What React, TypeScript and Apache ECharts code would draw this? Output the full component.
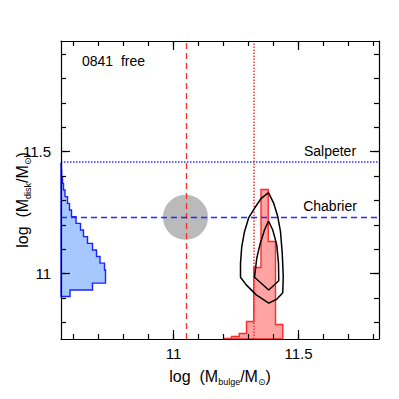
import React, { useEffect, useRef } from "react";
import * as echarts from "echarts";

// axis ranges and ticks
const xRange = [10.55, 11.822];
const yRange = [10.732, 11.954];
const xMajorTicks = [11, 11.5];
const xTickLabels = ["11", "11.5"];
const xMinorTicks = [10.6, 10.7, 10.8, 10.9, 11.0, 11.1, 11.2, 11.3, 11.4, 11.5, 11.6, 11.7, 11.8];
const yMajorTicks = [11, 11.5];
const yTickLabels = ["11", "11.5"];
const yMinorTicks = [10.8, 10.9, 11.0, 11.1, 11.2, 11.3, 11.4, 11.5, 11.6, 11.7, 11.8, 11.9];

// bulge-mass posterior histogram (red)
const bulgeBinEdges = [11.203, 11.232, 11.263, 11.292, 11.321, 11.35, 11.379, 11.408, 11.437];
const bulgeCounts = [1, 5, 11, 35, 143, 299, 195, 29];
const bulgeCountMax = 596;

// disk-mass posterior histogram (blue)
const diskBinEdges = [10.906, 10.933, 10.961, 10.988, 11.015, 11.043, 11.07, 11.097, 11.124, 11.152,
  11.179, 11.206, 11.234, 11.261, 11.288, 11.316, 11.343, 11.37, 11.397, 11.425, 11.452];
const diskCounts = [18, 63, 89, 89, 87, 78, 71, 63, 53, 45, 39, 30, 21, 17, 13, 8, 5, 3, 1.4, 0.8];
const diskCountMax = 636;

// confidence contours
const outerContour = [
  [11.38, 11.332], [11.351, 11.309], [11.324, 11.268], [11.301, 11.23], [11.284, 11.172],
  [11.273, 11.111], [11.268, 11.042], [11.268, 10.985], [11.291, 10.954], [11.331, 10.913],
  [11.381, 10.879], [11.413, 10.895], [11.437, 10.922], [11.439, 10.988], [11.435, 11.083],
  [11.428, 11.172], [11.417, 11.234], [11.401, 11.288], [11.38, 11.332],
];
const innerContour = [
  [11.38, 11.216], [11.364, 11.179], [11.347, 11.124], [11.333, 11.063], [11.324, 10.985],
  [11.381, 10.933], [11.421, 10.971], [11.42, 11.042], [11.413, 11.118], [11.397, 11.179],
  [11.38, 11.216],
];

// reference values
const chabrierPoint = [11.048, 11.231];
const salpeterBulge = 11.317;
const salpeterDisk = 11.457;

const FONT = "'Liberation Sans', Arial, Helvetica, sans-serif";

function labelFor(ticks: number[], labels: string[]) {
  return (v: number) => {
    const i = ticks.findIndex((t) => Math.abs(t - v) < 1e-9);
    return i >= 0 ? labels[i] : "";
  };
}

const axisLineStyle = { color: "#000", width: 1.2 };

function mainAxis(pos: string, range: number[], ticks: number[], labels: string[] | null, margin: number) {
  return {
    type: "value",
    position: pos,
    min: range[0],
    max: range[1],
    z: 10,
    axisLine: { show: true, onZero: false, lineStyle: axisLineStyle },
    axisTick: { show: true, inside: true, length: 9, customValues: ticks, lineStyle: axisLineStyle },
    axisLabel: labels
      ? { show: true, customValues: ticks, formatter: labelFor(ticks, labels), margin, fontSize: 15, color: "#000", fontFamily: FONT }
      : { show: false },
    splitLine: { show: false },
  };
}

function minorAxis(pos: string, range: number[], ticks: number[]) {
  return {
    type: "value",
    position: pos,
    min: range[0],
    max: range[1],
    z: 10,
    axisLine: { show: false, onZero: false },
    axisTick: { show: true, inside: true, length: 5, customValues: ticks, lineStyle: axisLineStyle },
    axisLabel: { show: false },
    splitLine: { show: false },
  };
}

function hiddenAxis(pos: string, max: number) {
  return {
    type: "value",
    position: pos,
    min: 0,
    max,
    show: false,
    axisLine: { show: false, onZero: false },
    splitLine: { show: false },
  };
}

export default function App() {
  const ref = useRef<HTMLDivElement>(null);
  useEffect(() => {
    if (!ref.current) return;
    const chart = echarts.init(ref.current, null, { renderer: "svg" });
    const option: any = {
      animation: false,
      backgroundColor: "#fff",
      grid: { left: 61, top: 41, width: 318, height: 298, containLabel: false },
      xAxis: [
        mainAxis("bottom", xRange, xMajorTicks, xTickLabels, 7),
        mainAxis("top", xRange, xMajorTicks, null, 0),
        minorAxis("bottom", xRange, xMinorTicks),
        minorAxis("top", xRange, xMinorTicks),
        hiddenAxis("bottom", diskCountMax),
      ],
      yAxis: [
        mainAxis("left", yRange, yMajorTicks, yTickLabels, 10),
        mainAxis("right", yRange, yMajorTicks, null, 0),
        minorAxis("left", yRange, yMinorTicks),
        minorAxis("right", yRange, yMinorTicks),
        hiddenAxis("left", bulgeCountMax),
      ],
      series: [
        {
          type: "custom",
          name: "bulge hist",
          xAxisIndex: 0,
          yAxisIndex: 4,
          z: 2,
          data: [[bulgeBinEdges[0], 0]],
          renderItem: (params: any, api: any) => {
            const pts: number[][] = [api.coord([bulgeBinEdges[0], 0])];
            bulgeCounts.forEach((c, i) => {
              pts.push(api.coord([bulgeBinEdges[i], c]));
              pts.push(api.coord([bulgeBinEdges[i + 1], c]));
            });
            pts.push(api.coord([bulgeBinEdges[bulgeBinEdges.length - 1], 0]));
            return {
              type: "polygon",
              shape: { points: pts },
              style: { fill: "#ffa3a3", stroke: "#ff2a2a", lineWidth: 1.4 },
            };
          },
        },
        {
          type: "custom",
          name: "disk hist",
          xAxisIndex: 4,
          yAxisIndex: 0,
          z: 2,
          data: [[0, diskBinEdges[0]]],
          renderItem: (params: any, api: any) => {
            const pts: number[][] = [api.coord([0, diskBinEdges[0]])];
            diskCounts.forEach((c, i) => {
              pts.push(api.coord([c, diskBinEdges[i]]));
              pts.push(api.coord([c, diskBinEdges[i + 1]]));
            });
            pts.push(api.coord([0, diskBinEdges[diskBinEdges.length - 1]]));
            return {
              type: "polygon",
              shape: { points: pts },
              style: { fill: "#a6c8ff", stroke: "#1a22ff", lineWidth: 1.4 },
            };
          },
        },
        {
          type: "scatter",
          name: "chabrier",
          xAxisIndex: 0,
          yAxisIndex: 0,
          z: 3,
          symbol: "circle",
          symbolSize: 45,
          itemStyle: { color: "#a9a9a9" },
          data: [chabrierPoint],
          silent: true,
        },
        {
          type: "line",
          name: "refs",
          xAxisIndex: 0,
          yAxisIndex: 0,
          z: 4,
          data: [],
          markLine: {
            silent: true,
            symbol: ["none", "none"],
            label: { show: false },
            animation: false,
            data: [
              { xAxis: chabrierPoint[0], lineStyle: { color: "#ff2a2a", type: [6, 4], width: 1.3 } },
              { xAxis: salpeterBulge, lineStyle: { color: "#ff3030", type: [1.5, 1.5], width: 1.5 } },
              { yAxis: chabrierPoint[1], lineStyle: { color: "#2a2aff", type: [6, 4], width: 1.3 } },
              { yAxis: salpeterDisk, lineStyle: { color: "#3030ff", type: [1.5, 1.5], width: 1.5 } },
            ],
          },
        },
        {
          type: "line",
          name: "outer",
          xAxisIndex: 0,
          yAxisIndex: 0,
          z: 5,
          showSymbol: false,
          symbol: "none",
          lineStyle: { color: "#000", width: 1.5 },
          data: outerContour,
        },
        {
          type: "line",
          name: "inner",
          xAxisIndex: 0,
          yAxisIndex: 0,
          z: 5,
          showSymbol: false,
          symbol: "none",
          lineStyle: { color: "#000", width: 1.5 },
          data: innerContour,
        },
      ],
      graphic: [
        {
          type: "text",
          x: 82,
          y: 61,
          style: { text: "0841  free", fontSize: 14, fontFamily: FONT, fill: "#000", align: "left", verticalAlign: "middle" },
        },
        {
          type: "text",
          x: 330,
          y: 151,
          style: { text: "Salpeter", fontSize: 14, fontFamily: FONT, fill: "#000", align: "center", verticalAlign: "middle" },
        },
        {
          type: "text",
          x: 330,
          y: 206,
          style: { text: "Chabrier", fontSize: 14, fontFamily: FONT, fill: "#000", align: "center", verticalAlign: "middle" },
        },
        {
          type: "text",
          x: 220,
          y: 376,
          style: {
            text: "{a|log  (M}{s|bulge}{a|/M}{o|⊙}{a|)}",
            align: "center",
            verticalAlign: "middle",
            rich: {
              a: { fontSize: 16, lineHeight: 20, fontFamily: FONT, fill: "#000" },
              s: { fontSize: 9, lineHeight: 9, verticalAlign: "bottom", fontFamily: FONT, fill: "#000" },
              o: { fontSize: 9, lineHeight: 9, verticalAlign: "bottom", fontFamily: "'DejaVu Sans', sans-serif", fill: "#000" },
            },
          },
        },
        {
          type: "text",
          x: 22,
          y: 200,
          rotation: Math.PI / 2,
          style: {
            text: "{a|log  (M}{s|disk}{a|/M}{o|⊙}{a|)}",
            align: "center",
            verticalAlign: "middle",
            rich: {
              a: { fontSize: 16, lineHeight: 20, fontFamily: FONT, fill: "#000" },
              s: { fontSize: 9, lineHeight: 9, verticalAlign: "bottom", fontFamily: FONT, fill: "#000" },
              o: { fontSize: 9, lineHeight: 9, verticalAlign: "bottom", fontFamily: "'DejaVu Sans', sans-serif", fill: "#000" },
            },
          },
        },
      ],
    };
    chart.setOption(option);
    return () => chart.dispose();
  }, []);
  return <div ref={ref} style={{ width: 399, height: 399, position: "absolute", left: 0, top: 0 }} />;
}
